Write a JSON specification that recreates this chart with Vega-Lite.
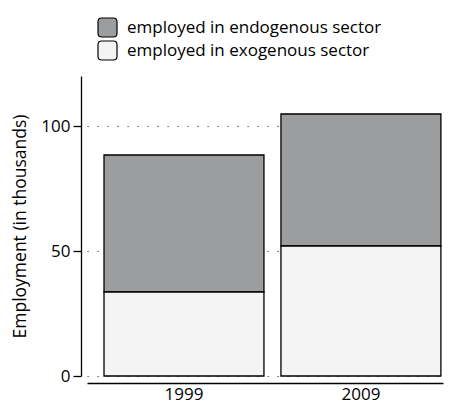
{
  "$schema": "https://vega.github.io/schema/vega-lite/v6.json",
  "autosize": {"type": "none"},
  "width": 356,
  "height": 300,
  "padding": {"left": 87, "top": 76, "right": 7, "bottom": 25},
  "background": "white",
  "config": {
    "font": "Open Sans",
    "view": {"stroke": null},
    "axis": {"labelFont": "Open Sans", "titleFont": "Open Sans"}
  },
  "data": {
    "values": [
      {"year": "1999", "sector": "employed in endogenous sector", "value": 54.8},
      {"year": "1999", "sector": "employed in exogenous sector", "value": 33.6},
      {"year": "2009", "sector": "employed in endogenous sector", "value": 52.8},
      {"year": "2009", "sector": "employed in exogenous sector", "value": 52.0}
    ]
  },
  "mark": {"type": "bar", "stroke": "black", "strokeWidth": 1.3},
  "encoding": {
    "x": {
      "field": "year",
      "type": "nominal",
      "scale": {"paddingInner": 0.096, "paddingOuter": 0.054, "align": 0.89},
      "axis": {
        "title": null,
        "labelAngle": 0,
        "ticks": false,
        "offset": 7,
        "domainColor": "black",
        "domainWidth": 1.3,
        "labelFontSize": 17,
        "labelColor": "black",
        "labelPadding": 3,
        "labelFontWeight": "normal"
      }
    },
    "y": {
      "field": "value",
      "type": "quantitative",
      "stack": "zero",
      "scale": {"domain": [0, 120], "nice": false},
      "axis": {
        "title": "Employment (in thousands)",
        "titleFontSize": 17.5,
        "titleFontWeight": "normal",
        "titleColor": "black",
        "titlePadding": 11,
        "values": [0, 50, 100],
        "offset": 6,
        "domainColor": "black",
        "domainWidth": 1.3,
        "tickColor": "black",
        "tickSize": 8,
        "tickWidth": 1.3,
        "labelFontSize": 17,
        "labelColor": "black",
        "labelPadding": 3,
        "grid": true,
        "gridColor": "#444444",
        "gridDash": [1.2, 8.8],
        "gridWidth": 1.2
      }
    },
    "color": {
      "field": "sector",
      "type": "nominal",
      "scale": {
        "domain": ["employed in endogenous sector", "employed in exogenous sector"],
        "range": ["#9c9d9f", "#f3f4f3"]
      },
      "legend": {
        "title": null,
        "orient": "none",
        "legendX": 10,
        "legendY": -59,
        "padding": 0,
        "symbolType": "M-1,-0.6Q-1,-1,-0.6,-1L0.6,-1Q1,-1,1,-0.6L1,0.6Q1,1,0.6,1L-0.6,1Q-1,1,-1,0.6Z",
        "symbolSize": 361,
        "symbolStrokeColor": "black",
        "symbolStrokeWidth": 1.2,
        "rowPadding": -2,
        "labelOffset": 9,
        "labelFontSize": 17,
        "labelColor": "black",
        "labelLimit": 400
      }
    },
    "order": {"field": "sector", "sort": "descending"}
  }
}
